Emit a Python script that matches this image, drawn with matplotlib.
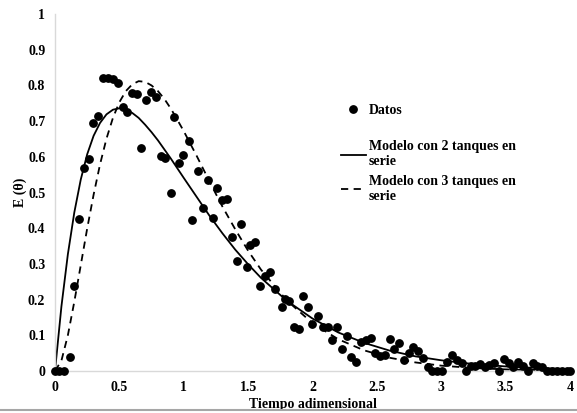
import matplotlib
matplotlib.use("Agg")
import matplotlib.pyplot as plt
from matplotlib.ticker import FuncFormatter, MultipleLocator
from matplotlib.lines import Line2D

plt.rcParams['font.family'] = ['Liberation Serif', 'DejaVu Serif']
plt.rcParams['font.weight'] = 'bold'

datos_x = [0, 0.035, 0.07, 0.117, 0.148, 0.19, 0.225, 0.262, 0.298, 0.336, 0.37, 0.41, 0.45, 0.49,
           0.526, 0.557, 0.596, 0.634, 0.67, 0.704, 0.743, 0.782, 0.821, 0.854, 0.9, 0.927, 0.963,
           0.997, 1.043, 1.065, 1.113, 1.147, 1.19, 1.225, 1.26, 1.3, 1.338, 1.372, 1.411, 1.445,
           1.489, 1.515, 1.553, 1.592, 1.631, 1.67, 1.709, 1.76, 1.786, 1.82, 1.856, 1.895, 1.929,
           1.968, 2.0, 2.045, 2.079, 2.118, 2.154, 2.193, 2.227, 2.265, 2.299, 2.338, 2.374, 2.415,
           2.452, 2.485, 2.524, 2.563, 2.602, 2.635, 2.672, 2.711, 2.75, 2.783, 2.822, 2.861, 2.894,
           2.93, 2.969, 3.008, 3.042, 3.081, 3.12, 3.159, 3.192, 3.231, 3.262, 3.301, 3.337, 3.373,
           3.412, 3.451, 3.49, 3.526, 3.56, 3.598, 3.632, 3.672, 3.71, 3.746, 3.785, 3.819, 3.858,
           3.897, 3.936, 3.974, 4.0]
datos_y = [0, 0, 0, 0.04, 0.239, 0.425, 0.568, 0.593, 0.694, 0.715, 0.821, 0.821, 0.818, 0.807,
           0.739, 0.725, 0.78, 0.776, 0.624, 0.759, 0.781, 0.768, 0.603, 0.598, 0.50, 0.711, 0.584,
           0.605, 0.643, 0.423, 0.561, 0.458, 0.536, 0.43, 0.513, 0.478, 0.482, 0.376, 0.307, 0.413,
           0.29, 0.352, 0.36, 0.239, 0.267, 0.276, 0.231, 0.178, 0.203, 0.195, 0.122, 0.118, 0.21,
           0.179, 0.131, 0.153, 0.124, 0.123, 0.087, 0.124, 0.062, 0.098, 0.038, 0.024, 0.082, 0.088,
           0.092, 0.05, 0.041, 0.046, 0.091, 0.062, 0.079, 0.031, 0.05, 0.067, 0.056, 0.036, 0.012,
           0.0, 0, 0, 0.026, 0.045, 0.031, 0.023, 0, 0.014, 0.014, 0.021, 0.012, 0.017,
           0.023, 0, 0.033, 0.023, 0.012, 0.026, 0.014, 0, 0.023, 0.014, 0.012, 0,
           0, 0, 0, 0, 0]

# Model curves
m2_x = [0, 0.05, 0.1, 0.15, 0.2, 0.25, 0.3, 0.35, 0.4, 0.45, 0.5, 0.55, 0.6, 0.65, 0.7, 0.75,
        0.8, 0.9, 1.0, 1.1, 1.2, 1.3, 1.4, 1.5, 1.6, 1.8, 2.0, 2.2, 2.4, 2.6, 2.8, 3.0, 3.25, 3.5,
        3.75, 4.0]
m2_y = [0, 0.181, 0.327, 0.444, 0.536, 0.607, 0.659, 0.695, 0.719, 0.732, 0.736, 0.732, 0.723,
        0.709, 0.690, 0.669, 0.646, 0.595, 0.541, 0.488, 0.435, 0.386, 0.340, 0.299, 0.261, 0.197,
        0.147, 0.108, 0.079, 0.057, 0.041, 0.030, 0.0195, 0.0128, 0.0083, 0.0054]
m3_x = [0, 0.05, 0.1, 0.15, 0.2, 0.25, 0.3, 0.35, 0.4, 0.45, 0.5, 0.55, 0.6, 0.65, 0.7, 0.75,
        0.8, 0.85, 0.9, 0.95, 1.0, 1.1, 1.2, 1.3, 1.4, 1.5, 1.6, 1.8, 2.0, 2.2, 2.4, 2.6, 2.8, 3.0,
        3.25, 3.5, 4.0]
m3_y = [0, 0.029, 0.100, 0.194, 0.296, 0.399, 0.494, 0.579, 0.651, 0.709, 0.753, 0.784, 0.803,
        0.812, 0.810, 0.800, 0.784, 0.762, 0.735, 0.704, 0.672, 0.603, 0.531, 0.461, 0.397, 0.337,
        0.284, 0.198, 0.134, 0.089, 0.058, 0.037, 0.024, 0.015, 0.0083, 0.0045, 0.0013]

labels = ["Datos", "Modelo con 2 tanques en\nserie", "Modelo con 3 tanques en\nserie"]

fig = plt.figure(figsize=(5.77, 4.13), dpi=100)
ax = fig.add_axes([0.0953, 0.1017, 0.8925, 0.8643])

l2, = ax.plot(m2_x, m2_y, color='black', lw=1.3, label=labels[1], zorder=2)
l3, = ax.plot(m3_x, m3_y, color='black', lw=1.3, ls=(0, (4, 3)), label=labels[2], zorder=2)
ld, = ax.plot(datos_x, datos_y, 'o', color='black', ms=5.3, ls='none', label=labels[0],
              clip_on=False, zorder=3)

ax.set_xlim(0, 4)
ax.set_ylim(0, 1)
ax.xaxis.set_major_locator(MultipleLocator(0.5))
ax.yaxis.set_major_locator(MultipleLocator(0.1))
fmt = FuncFormatter(lambda v, p: f"{v:g}")
ax.xaxis.set_major_formatter(fmt)
ax.yaxis.set_major_formatter(fmt)
ax.tick_params(length=0, labelsize=10, pad=7)
for lab in ax.get_xticklabels() + ax.get_yticklabels():
    lab.set_fontweight('bold')

for s in ['top', 'right']:
    ax.spines[s].set_visible(False)
for s in ['left', 'bottom']:
    ax.spines[s].set_color('#d9d9d9')
    ax.spines[s].set_linewidth(1.0)

ax.set_xlabel("Tiempo adimensional", fontsize=10, fontweight='bold', labelpad=3)
ax.set_ylabel("E (θ)", fontsize=10, fontweight='bold', labelpad=1)

legprops = {'weight': 'bold', 'size': 10}
leg1 = ax.legend([ld], [labels[0]], loc='center left', bbox_to_anchor=(0.531, 0.729),
                 frameon=False, handlelength=1.8, handletextpad=0.2, prop=legprops)
ax.add_artist(leg1)
ax.legend([l2, l3], labels[1:], loc='upper left', bbox_to_anchor=(0.531, 0.681),
          frameon=False, handlelength=1.8, handletextpad=0.2, labelspacing=0.5,
          prop=legprops)

fig.add_artist(Line2D([0, 1], [0.007, 0.007], transform=fig.transFigure,
                      color='#a6a6a6', lw=1.5))

fig.savefig("out.png", dpi=100)
